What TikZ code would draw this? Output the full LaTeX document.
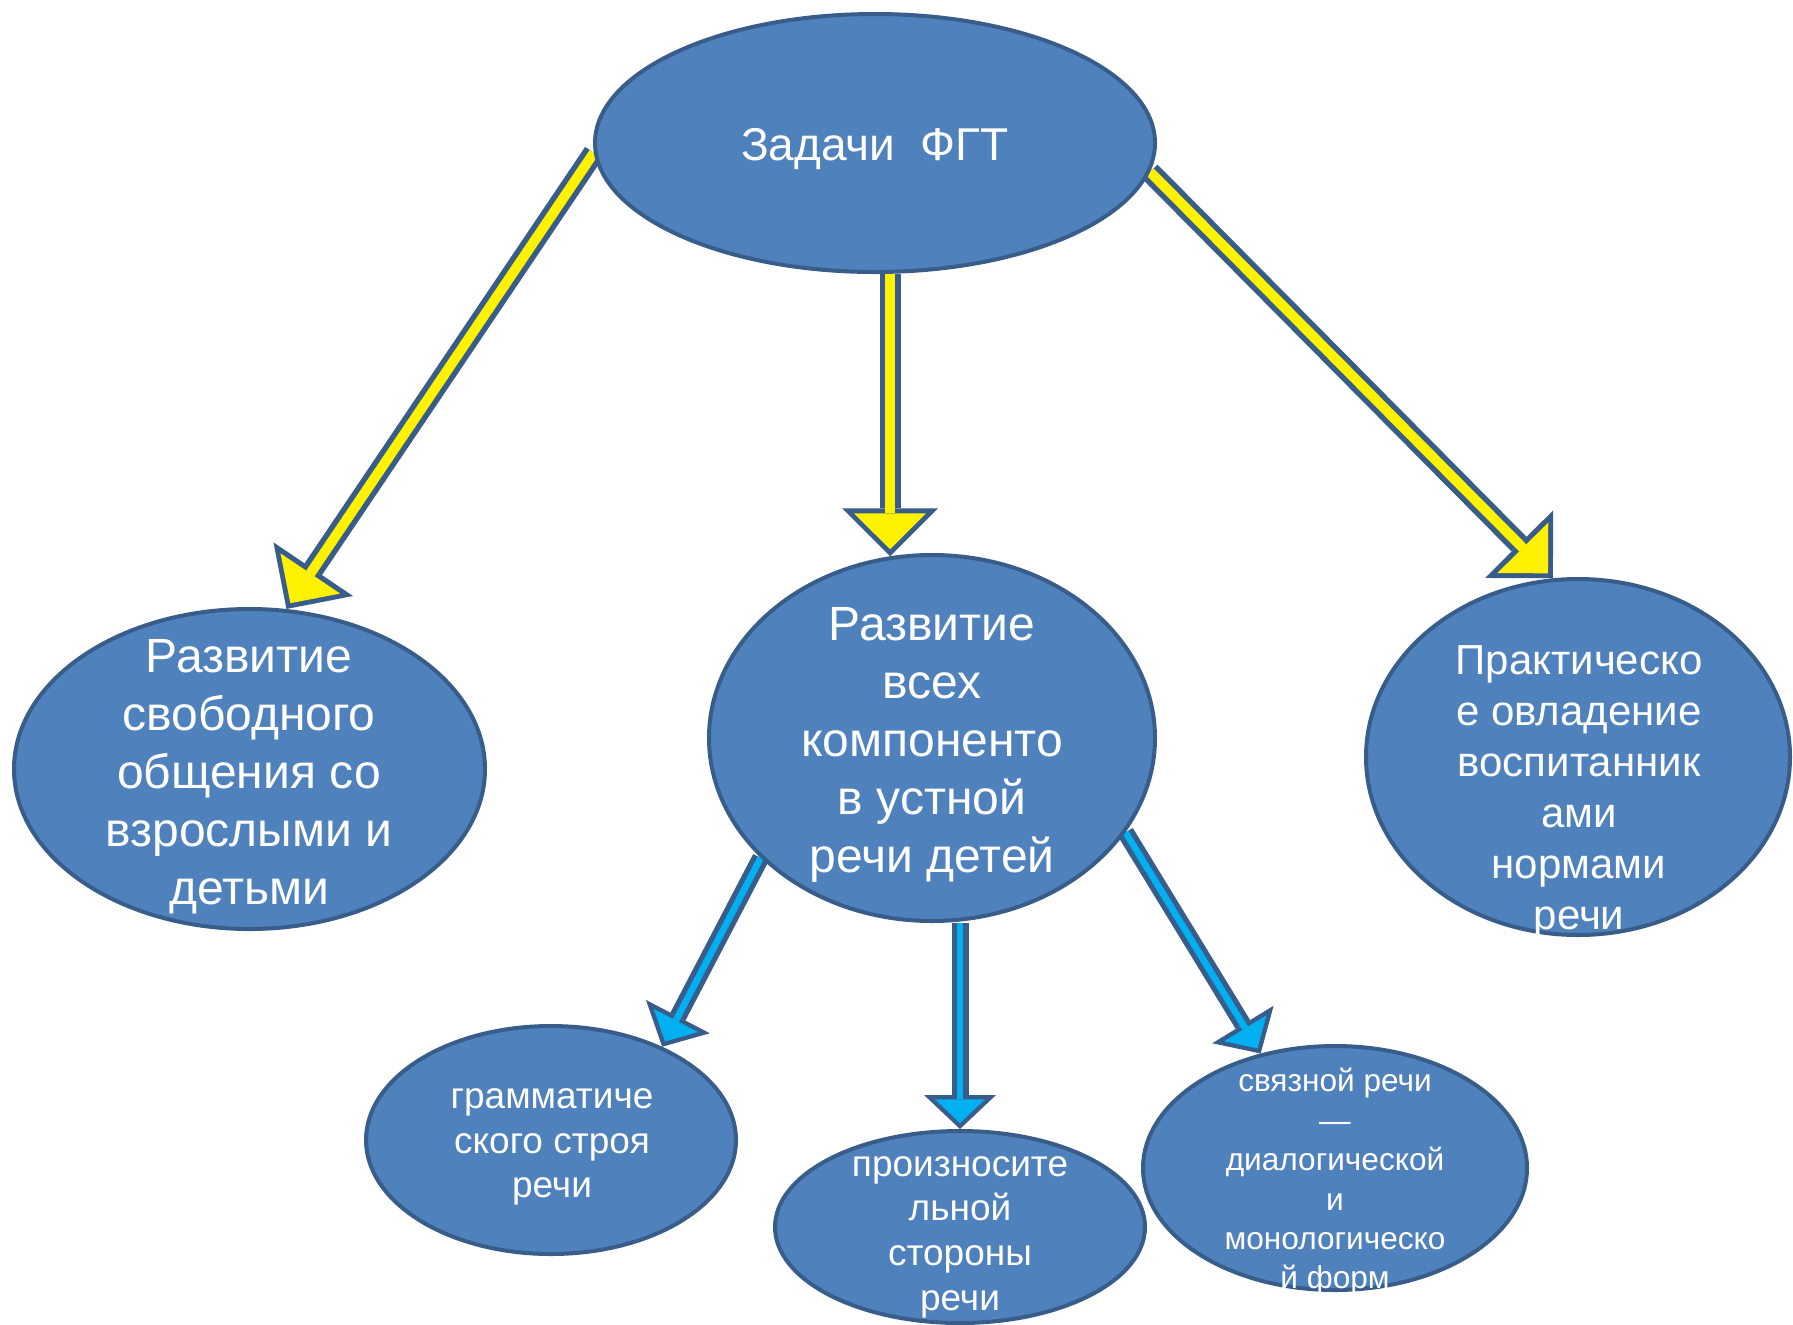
\documentclass[tikz,border=0pt]{standalone}
\usepackage{fontspec}
\setmainfont{Liberation Sans}
\usetikzlibrary{shapes.geometric,arrows.meta,backgrounds}
\definecolor{bubblefill}{HTML}{4F81BD}
\definecolor{bubbleline}{HTML}{385D8A}
\definecolor{arrowcyan}{HTML}{00B0F0}
\begin{document}
\begin{tikzpicture}[x=0.5pt,y=-0.5pt,
        bubble/.style={ellipse,fill=bubblefill,draw=bubbleline,line width=2pt,inner sep=0pt},
        words/.style={text=white,align=center,inner sep=0pt},
        yarrow/.style={draw=bubbleline,line width=10.5pt,
            -{Triangle[width=48pt,length=24pt,line width=0pt]},
            postaction={draw=yellow,line width=5pt,shorten >=3.5pt,
                -{Triangle[width=35.9pt,length=17.9pt,line width=0pt]}}},
        barrow/.style={draw=bubbleline,line width=8.5pt,
            -{Triangle[width=36pt,length=17pt,line width=0pt]},
            postaction={draw=arrowcyan,line width=3.3pt,shorten >=3pt,
                -{Triangle[width=24.9pt,length=11.8pt,line width=0pt]}}}]
    \useasboundingbox (0,0) rectangle (1793,1324);
    \node[bubble,minimum width=280pt,minimum height=129pt] (tasks) at (875,143) {};
    \node[bubble,minimum width=235.5pt,minimum height=160pt] (free) at (249.5,769) {};
    \node[bubble,minimum width=223pt,minimum height=183pt] (parts) at (932,738) {};
    \node[bubble,minimum width=212pt,minimum height=178pt] (norms) at (1578,757) {};
    \node[bubble,minimum width=185pt,minimum height=114pt] (gram) at (551,1140) {};
    \node[bubble,minimum width=185pt,minimum height=96pt] (pron) at (960,1227) {};
    \node[bubble,minimum width=192pt,minimum height=122pt] (coh) at (1335,1168) {};
    \begin{scope}[on background layer]
        \fill[white] (0,0) rectangle (1793,1324);
        \draw[yarrow] (tasks.182) -- (free.77);
        \draw[yarrow] (tasks.south -| parts.103) -- (parts.103);
        \draw[yarrow] (tasks.354) -- (norms.98);
        \draw[barrow] (parts.215) -- (gram.40);
        \draw[barrow] (parts.south -| pron.north) -- (pron.north);
        \draw[barrow] (parts.334) -- (coh.123);
    \end{scope}
    \node[words,font=\fontsize{23}{28}\selectfont] (tasks-t) at (875,149) {Задачи\ \ ФГТ};
    \node[words,font=\fontsize{24}{29}\selectfont] (free-t) at (249,777)
        {Развитие\\свободного\\общения со\\взрослыми и\\детьми};
    \node[words,font=\fontsize{24}{29}\selectfont] (parts-t) at (932,745)
        {Развитие\\всех\\компоненто\\в устной\\речи детей};
    \node[words,font=\fontsize{21}{25.5}\selectfont] (norms-t) at (1579,792)
        {Практическо\\е овладение\\воспитанник\\ами\\нормами\\речи};
    \node[words,font=\fontsize{18.5}{22.3}\selectfont] (gram-t) at (552,1147)
        {грамматиче\\ского строя\\речи};
    \node[words,font=\fontsize{18.5}{22.3}\selectfont] (pron-t) at (960,1237)
        {произносите\\льной\\стороны\\речи};
    \node[words,font=\fontsize{15.8}{19.7}\selectfont] (coh-t) at (1335,1182)
        {связной речи\\—\\диалогической\\и\\монологическо\\й форм};
\end{tikzpicture}
\end{document}
